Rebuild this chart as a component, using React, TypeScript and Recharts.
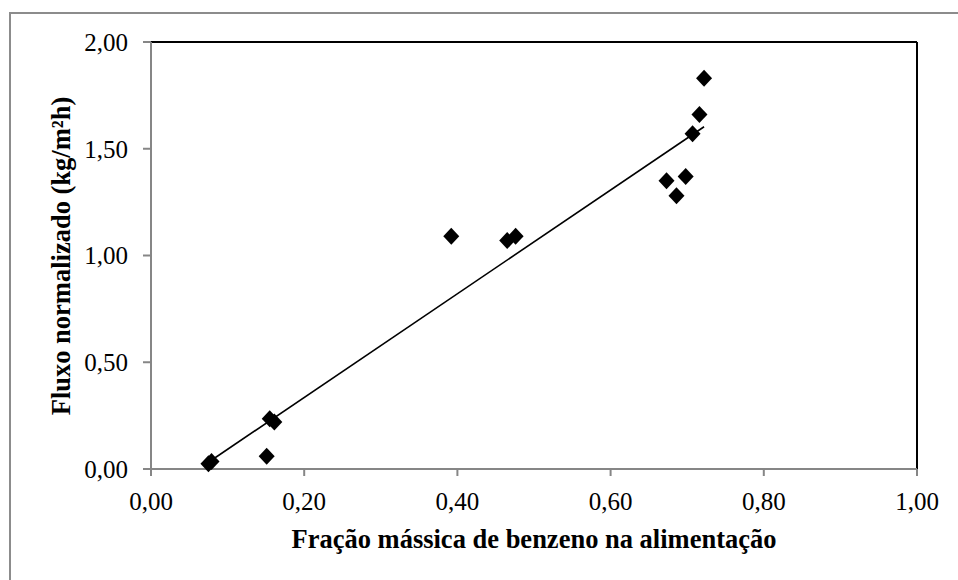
import React from "react";
import {
  ScatterChart,
  Scatter,
  XAxis,
  YAxis,
  ReferenceLine,
} from "recharts";

// Fração mássica de benzeno (x) vs fluxo normalizado (y)
const fracaoBenzeno = [
  0.075, 0.079, 0.151, 0.155, 0.161, 0.392, 0.465, 0.476, 0.673, 0.686, 0.698,
  0.707, 0.716, 0.722,
];
const fluxoNormalizado = [
  0.025, 0.035, 0.06, 0.235, 0.22, 1.09, 1.07, 1.09, 1.35, 1.28, 1.37, 1.57,
  1.66, 1.83,
];

// linear trendline endpoints
const trendX = [0.076, 0.722];
const trendY = [0.034, 1.603];

const xTicks = [0, 0.2, 0.4, 0.6, 0.8, 1];
const yTicks = [0, 0.5, 1, 1.5, 2];

const points = fracaoBenzeno.map((x, i) => ({ x, y: fluxoNormalizado[i] }));
const trend = trendX.map((x, i) => ({ x, y: trendY[i] }));

const FONT = "'Liberation Serif', 'Times New Roman', serif";
const AXIS_GRAY = "#868686";

const fmt = (v: number) => v.toFixed(2).replace(".", ",");

function Diamond(props: any) {
  const { cx, cy } = props;
  if (cx == null || cy == null) return null;
  const w = 8;
  const h = 8.5;
  return (
    <polygon
      points={`${cx},${cy - h} ${cx + w},${cy} ${cx},${cy + h} ${cx - w},${cy}`}
      fill="#000"
    />
  );
}

// rotated y title, centred on the plot height
function YTitle() {
  return (
    <text
      x={61}
      y={256}
      transform="rotate(-90 61 256)"
      textAnchor="middle"
      dominantBaseline="central"
      fontFamily={FONT}
      fontSize={26.5}
      fontWeight="bold"
      fill="#000"
    >
      Fluxo normalizado (kg/m²h)
    </text>
  );
}

const tickStyle = { fontFamily: FONT, fontSize: 25, fill: "#000" };

export default function App() {
  return (
    <div
      style={{
        position: "fixed",
        left: 0,
        top: 0,
        width: 958,
        height: 580,
        background: "#fff",
        overflow: "hidden",
      }}
    >
      <div
        style={{
          position: "absolute",
          left: 9,
          top: 12,
          width: 980,
          height: 600,
          border: "2px solid #8c8c8c",
          boxSizing: "border-box",
        }}
      />
      <ScatterChart
        width={958}
        height={580}
        margin={{ top: 42, right: 41, bottom: 81, left: 91 }}
        style={{ position: "absolute", left: 0, top: 0, fontFamily: FONT }}
      >
        <XAxis
          type="number"
          dataKey="x"
          domain={[0, 1]}
          ticks={xTicks}
          tickFormatter={fmt}
          tick={tickStyle}
          tickSize={7}
          tickMargin={16}
          height={30}
          axisLine={{ stroke: AXIS_GRAY, strokeWidth: 2 }}
          tickLine={{ stroke: AXIS_GRAY, strokeWidth: 2 }}
          label={{
            value: "Fração mássica de benzeno na alimentação",
            position: "insideBottom",
            offset: -49,
            style: {
              fontFamily: FONT,
              fontSize: 26.5,
              fontWeight: "bold",
              fill: "#000",
            },
          }}
        />
        <YAxis
          type="number"
          dataKey="y"
          domain={[0, 2]}
          ticks={yTicks}
          tickFormatter={fmt}
          tick={tickStyle}
          tickSize={8}
          tickMargin={15}
          width={60}
          axisLine={{ stroke: AXIS_GRAY, strokeWidth: 2 }}
          tickLine={{ stroke: AXIS_GRAY, strokeWidth: 2 }}
          label={<YTitle />}
        />
        <ReferenceLine y={2} stroke="#000" strokeWidth={2} />
        <ReferenceLine x={1} stroke="#000" strokeWidth={2} />
        <Scatter
          data={trend}
          line={{ stroke: "#000", strokeWidth: 1.6 }}
          shape={() => <g />}
          isAnimationActive={false}
        />
        <Scatter data={points} shape={Diamond} isAnimationActive={false} />
      </ScatterChart>
    </div>
  );
}
